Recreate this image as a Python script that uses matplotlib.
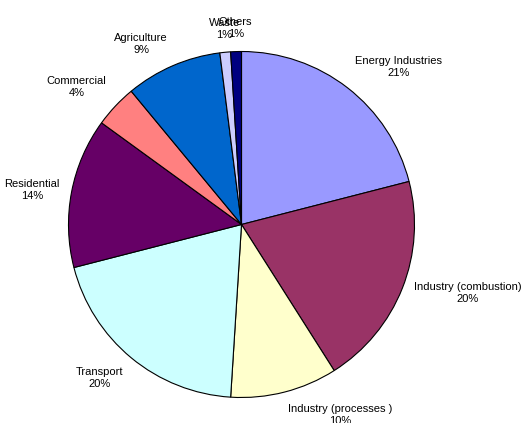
import matplotlib
matplotlib.use('Agg')
from matplotlib import pyplot as plt
import numpy as np

# Emission shares by source sector (%)
sectors = ['Energy Industries', 'Industry (combustion)', 'Industry (processes )',
           'Transport', 'Residential', 'Commercial', 'Agriculture', 'Waste', 'Others']
shares = [21, 20, 10, 20, 14, 4, 9, 1, 1]
colors = ['#9999FF', '#993366', '#FFFFCC', '#CCFFFF', '#660066',
          '#FF8080', '#0066CC', '#CCCCFF', '#000080']

plt.rcParams['font.family'] = ['Liberation Sans', 'DejaVu Sans']

W, H = 525, 423
radius_px = 173
cx, cy = 241.5, 224.5

fig = plt.figure(figsize=(W / 100, H / 100), dpi=100)
ax = fig.add_axes([0, 0, 1, 1])

wedges, _ = ax.pie(shares, colors=colors, startangle=90, counterclock=False,
                   wedgeprops=dict(edgecolor='black', linewidth=0.8))

# put the pie where we want it in pixel terms
ax.set_xlim(-cx / radius_px, (W - cx) / radius_px)
ax.set_ylim(-(H - cy) / radius_px, cy / radius_px)
ax.set_aspect('equal')
ax.axis('off')

total = sum(shares)
for w, name, val in zip(wedges, sectors, shares):
    mid = np.deg2rad((w.theta1 + w.theta2) / 2)
    c, s = np.cos(mid), np.sin(mid)
    r = 1.07
    if abs(c) < 0.2:
        ha = 'center'
    elif c > 0:
        ha = 'left'
    else:
        ha = 'right'
    if abs(s) < 0.5:
        va = 'center'
    elif s > 0:
        va = 'bottom'
    else:
        va = 'top'
    ax.text(r * c, r * s, f'{name}\n{round(100 * val / total)}%',
            ha=ha, va=va, multialignment='center', fontsize=8,
            linespacing=1.25)

fig.savefig('out.png', dpi=100)
